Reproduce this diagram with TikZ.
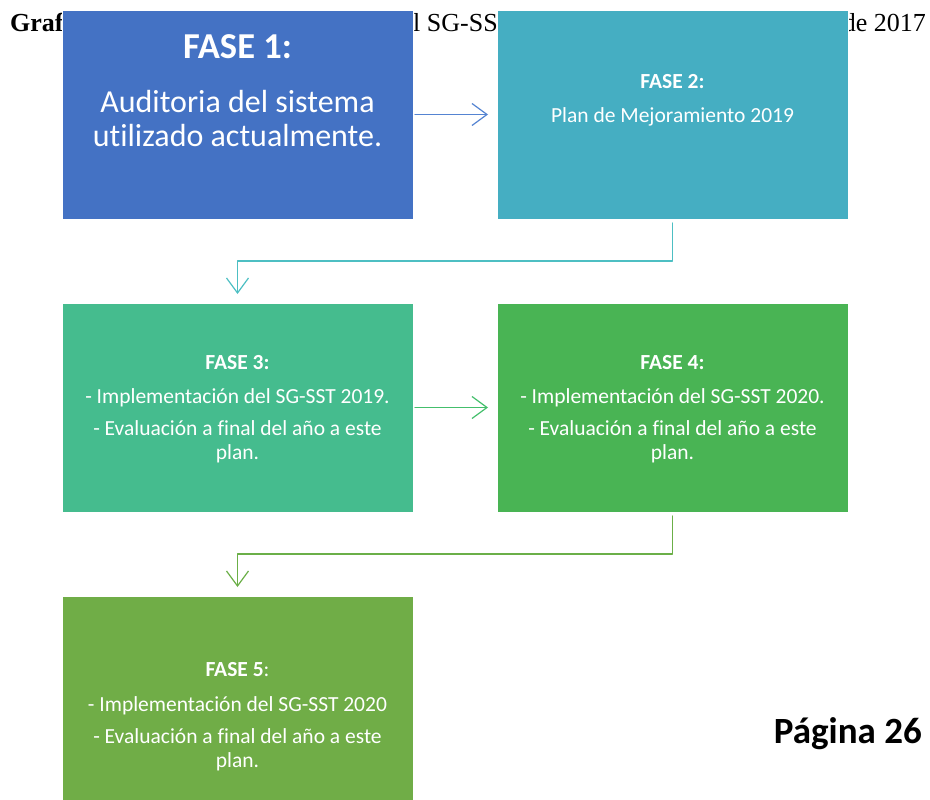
\documentclass[tikz,border=0pt]{standalone}
\usepackage{fontspec}
\setmainfont{Carlito}[Ligatures=NoCommon]
\newfontfamily\timesfont{Liberation Serif}
\usetikzlibrary{arrows.meta,calc,positioning}

\definecolor{faseA}{HTML}{4472C4}
\definecolor{faseB}{HTML}{45AEC2}
\definecolor{faseC}{HTML}{45BC8E}
\definecolor{faseD}{HTML}{49B454}
\definecolor{faseE}{HTML}{70AD47}
\definecolor{flechaA}{HTML}{5584D2}
\definecolor{flechaB}{HTML}{4DBFC3}
\definecolor{flechaC}{HTML}{44BF6C}
\definecolor{flechaD}{HTML}{6BAF48}

\tikzset{
  fasebox/.style={rectangle, draw=white, line width=0.6pt, minimum width=351pt,
    minimum height=209pt, inner sep=0pt, outer sep=0pt},
  fasetext/.style={text=white, align=center, inner sep=0pt, anchor=north,
    font=\fontsize{21.5}{24}\selectfont},
  flecha/.style={line width=1.2pt, -{Straight Barb[length=15pt,width=22pt]},
    shorten <=2pt, shorten >=9pt},
  titulo/.style={font=\timesfont\fontsize{26}{30}\selectfont, inner sep=0pt, anchor=base west},
}

\begin{document}
\begin{tikzpicture}[x=1pt, y=-1pt, line cap=round, line join=round]
  \useasboundingbox (0,0) rectangle (930,800);

  % heading of the page, mostly hidden by the boxes
  \node[titulo, font=\timesfont\fontsize{26}{30}\selectfont\bfseries] (titA) at (10,32) {Graf};
  \node[titulo] (titB) at (413,32) {l SG-SST};
  \node[titulo, anchor=base east] (titC) at (926,32) {de 2017};

  % the five phases
  \node[fasebox, fill=faseA] (fase1) at (237.5,114.5) {};
  \node[fasebox, fill=faseB, right=84pt of fase1] (fase2) {};
  \node[fasebox, fill=faseC, below=84pt of fase1] (fase3) {};
  \node[fasebox, fill=faseD, right=84pt of fase3] (fase4) {};
  \node[fasebox, fill=faseE, below=84pt of fase3] (fase5) {};

  \node[fasetext, font=\fontsize{32}{34}\selectfont] (txt1) at ($(fase1.north)+(0,24.5)$)
    {{\fontsize{36.5}{40}\selectfont\bfseries FASE 1:}\\[20pt]Auditoria del sistema\\utilizado actualmente.};
  \node[fasetext] (txt2) at ($(fase2.north)+(0,64)$)
    {\textbf{FASE 2:}\\[10pt]Plan de Mejoramiento 2019};
  \node[fasetext] (txt3) at ($(fase3.north)+(0,52.5)$)
    {\textbf{FASE 3:}\\[10pt]- Implementación del SG-SST 2019.\\[8pt]- Evaluación a final del año a este\\plan.};
  \node[fasetext] (txt4) at ($(fase4.north)+(0,52.5)$)
    {\textbf{FASE 4:}\\[10pt]- Implementación del SG-SST 2020.\\[8pt]- Evaluación a final del año a este\\plan.};
  \node[fasetext] (txt5) at ($(fase5.north)+(0,66.5)$)
    {\textbf{FASE 5}:\\[11pt]- Implementación del SG-SST 2020\\[8pt]- Evaluación a final del año a este\\plan.};

  % connectors
  \draw[flecha, flechaA] (fase1) -- (fase2);
  \draw[flecha, flechaB, shorten <=4pt] (fase2.south) |- ($(fase2.south)!0.5!(fase3.north)$) -| (fase3.north);
  \draw[flecha, flechaC] (fase3) -- (fase4);
  \draw[flecha, flechaD, shorten <=4pt] (fase4.south) |- ($(fase4.south)!0.5!(fase5.north)$) -| (fase5.north);

  \node[font=\fontsize{37}{44}\selectfont\bfseries, inner sep=0pt, anchor=base east] (pagina) at (922,743) {Página 26};
\end{tikzpicture}
\end{document}
